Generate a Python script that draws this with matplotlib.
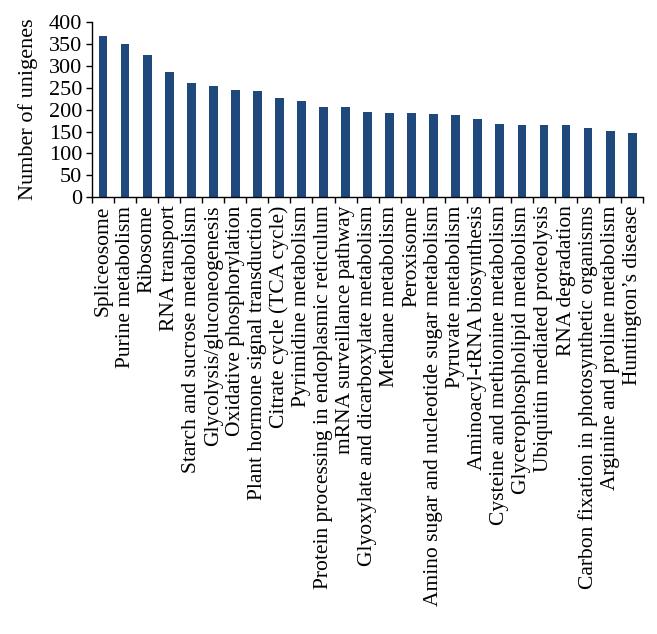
import matplotlib
matplotlib.use("Agg")
import matplotlib.pyplot as plt
import numpy as np

# ---------------------------------------------------------------------------
# Data
# ---------------------------------------------------------------------------

pathways = [
    "Spliceosome",
    "Purine metabolism",
    "Ribosome",
    "RNA transport",
    "Starch and sucrose metabolism",
    "Glycolysis/gluconeogenesis",
    "Oxidative phosphorylation",
    "Plant hormone signal transduction",
    "Citrate cycle (TCA cycle)",
    "Pyrimidine metabolism",
    "Protein processing in endoplasmic reticulum",
    "mRNA surveillance pathway",
    "Glyoxylate and dicarboxylate metabolism",
    "Methane metabolism",
    "Peroxisome",
    "Amino sugar and nucleotide sugar metabolism",
    "Pyruvate metabolism",
    "Aminoacyl-tRNA biosynthesis",
    "Cysteine and methionine metabolism",
    "Glycerophospholipid metabolism",
    "Ubiquitin mediated proteolysis",
    "RNA degradation",
    "Carbon fixation in photosynthetic organisms",
    "Arginine and proline metabolism",
    "Huntington\u2019s disease",
]

unigenes = [368, 351, 325, 287, 261, 253, 245, 242, 226, 219,
            205, 205, 194, 192, 192, 189, 187, 179, 168, 166,
            166, 164, 158, 152, 147]

y_ticks = [0, 50, 100, 150, 200, 250, 300, 350, 400]

BAR_COLOR = "#1f497d"

plt.rcParams["font.family"] = ["Liberation Serif", "DejaVu Serif"]
plt.rcParams["font.size"] = 16

fig = plt.figure(figsize=(6.57, 6.34), dpi=100)
ax = fig.add_axes([0.140, 0.689, 0.839, 0.276])

x = np.arange(len(pathways))
ax.bar(x, unigenes, width=0.4, color=BAR_COLOR)

ax.set_xlim(-0.5, len(pathways) - 0.5)
ax.set_ylim(0, 400)
ax.set_yticks(y_ticks)
ax.set_ylabel("Number of unigenes", labelpad=8)

# category labels at bar centres, tick marks at the category boundaries
ax.set_xticks(x)
ax.set_xticklabels(pathways, rotation=90, fontsize=15.5)
ax.tick_params(axis="x", which="major", length=0, pad=6)
ax.set_xticks(np.arange(len(pathways) + 1) - 0.5, minor=True)
ax.tick_params(axis="x", which="minor", length=4, width=1, direction="out")
ax.tick_params(axis="y", length=4, width=1, direction="out", pad=3)

for side in ("top", "right"):
    ax.spines[side].set_visible(False)
for side in ("left", "bottom"):
    ax.spines[side].set_linewidth(1)

fig.savefig("out.png", dpi=100)
plt.close(fig)
